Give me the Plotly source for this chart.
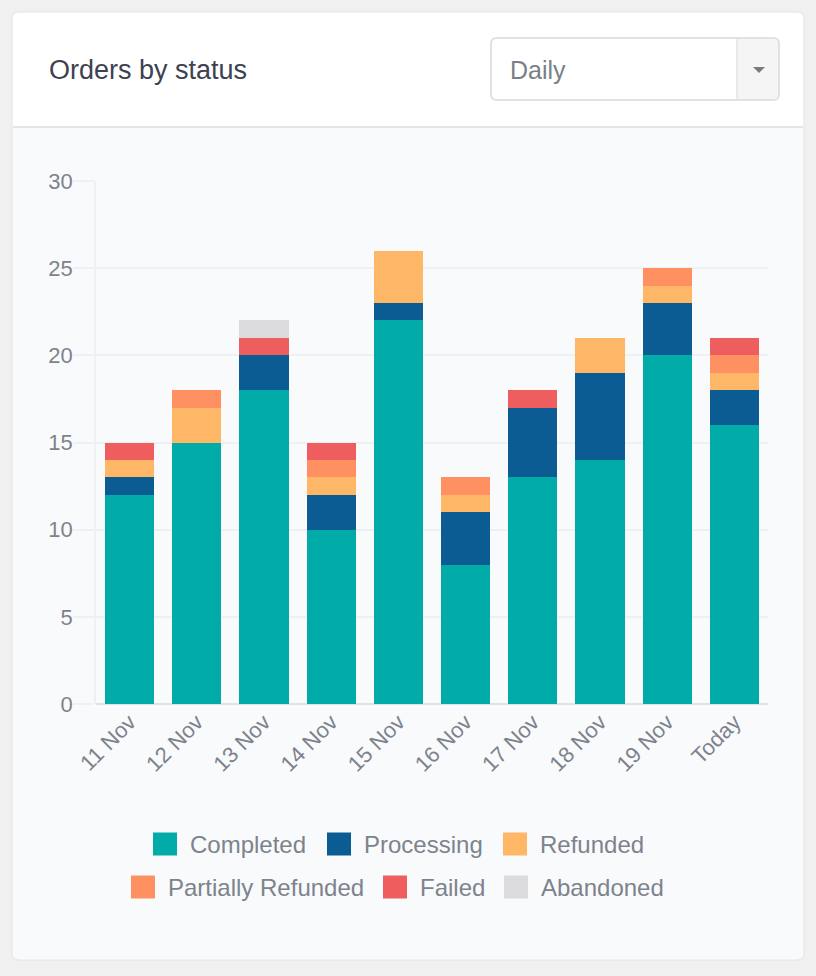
import plotly.graph_objects as go

categories = ["11 Nov", "12 Nov", "13 Nov", "14 Nov", "15 Nov", "16 Nov", "17 Nov", "18 Nov", "19 Nov", "Today"]
completed = [12, 15, 18, 10, 22, 8, 13, 14, 20, 16]
processing = [1, 0, 2, 2, 1, 3, 4, 5, 3, 2]
refunded = [1, 2, 0, 1, 3, 1, 0, 2, 1, 1]
partially_refunded = [0, 1, 0, 1, 0, 1, 0, 0, 1, 1]
failed = [1, 0, 1, 1, 0, 0, 1, 0, 0, 1]
abandoned = [0, 0, 1, 0, 0, 0, 0, 0, 0, 0]

series_names = ["Completed", "Processing", "Refunded", "Partially Refunded", "Failed", "Abandoned"]
series_values = [completed, processing, refunded, partially_refunded, failed, abandoned]
colors = ["#00aba8", "#0c5c94", "#fdb766", "#fe9062", "#ef5e5e", "#dcdcde"]

W, H = 816, 976
L, R, T, B = 96, 768, 181, 704
FONT = "Helvetica Neue, Helvetica, Arial, Liberation Sans, sans-serif"
TEXT_GREY = "#7d838d"


def px(x):
    return (x - L) / (R - L)


def py(y):
    return (B - y) / (B - T)


def rrect(x0, y0, x1, y1, r, tl=True, tr=True, br=True, bl=True):
    def P(x, y):
        return f"{px(x):.6f},{py(y):.6f}"
    rtl = r if tl else 0
    rtr = r if tr else 0
    rbr = r if br else 0
    rbl = r if bl else 0
    p = f"M {P(x0 + rtl, y0)} L {P(x1 - rtr, y0)} "
    p += f"Q {P(x1, y0)} {P(x1, y0 + rtr)} " if rtr else ""
    p += f"L {P(x1, y1 - rbr)} "
    p += f"Q {P(x1, y1)} {P(x1 - rbr, y1)} " if rbr else ""
    p += f"L {P(x0 + rbl, y1)} "
    p += f"Q {P(x0, y1)} {P(x0, y1 - rbl)} " if rbl else ""
    p += f"L {P(x0, y0 + rtl)} "
    p += f"Q {P(x0, y0)} {P(x0 + rtl, y0)} " if rtl else ""
    return p + "Z"


fig = go.Figure()
for name, vals, col in zip(series_names, series_values, colors):
    fig.add_trace(go.Bar(x=categories, y=vals, name=name, marker=dict(color=col, line=dict(width=0)),
                         showlegend=False, hoverinfo="skip"))

shapes = []
# card
shapes.append(dict(type="path", path=rrect(12, 12, 804, 960, 7), xref="paper", yref="paper",
                   fillcolor="#ffffff", line=dict(color="#e2e2e2", width=1), layer="below"))
# body
shapes.append(dict(type="path", path=rrect(13, 127, 803, 959, 6, tl=False, tr=False), xref="paper", yref="paper",
                   fillcolor="#f9fafc", line=dict(width=0), layer="below"))
shapes.append(dict(type="line", x0=px(13), x1=px(803), y0=py(127), y1=py(127), xref="paper", yref="paper",
                   line=dict(color="#e3e5e8", width=2), layer="below"))
# dropdown
shapes.append(dict(type="path", path=rrect(491, 38, 779, 100, 6), xref="paper", yref="paper",
                   fillcolor="#ffffff", line=dict(color="#dfe2e6", width=2), layer="below"))
shapes.append(dict(type="path", path=rrect(737, 39, 778, 99, 5, tl=False, bl=False), xref="paper", yref="paper",
                   fillcolor="#f5f5f5", line=dict(width=0), layer="below"))
shapes.append(dict(type="line", x0=px(737), x1=px(737), y0=py(39), y1=py(99), xref="paper", yref="paper",
                   line=dict(color="#e1e3e6", width=1.5), layer="below"))
shapes.append(dict(type="path", path=f"M {px(753):.6f},{py(67):.6f} L {px(765):.6f},{py(67):.6f} L {px(759):.6f},{py(73):.6f} Z",
                   xref="paper", yref="paper", fillcolor="#777b82", line=dict(width=0), layer="below"))

annotations = [
    dict(text="Orders by status", x=px(47), y=py(70), xref="paper", yref="paper", xanchor="left", yanchor="middle",
         showarrow=False, font=dict(family=FONT, size=27, color="#3c4250")),
    dict(text="Daily", x=px(508), y=py(70), xref="paper", yref="paper", xanchor="left", yanchor="middle",
         showarrow=False, font=dict(family=FONT, size=25, color="#7a7f87")),
]

# custom legend
legend_pos = [(153, 844), (327, 844), (503, 844), (131, 887), (383, 887), (504, 887)]
for name, col, (lx, ly) in zip(series_names, colors, legend_pos):
    shapes.append(dict(type="rect", x0=px(lx), x1=px(lx + 24), y0=py(ly - 11.5), y1=py(ly + 11.5),
                       xref="paper", yref="paper", fillcolor=col, line=dict(width=0)))
    annotations.append(dict(text=name, x=px(lx + 35), y=py(ly), xref="paper", yref="paper",
                            xanchor="left", yanchor="middle", showarrow=False,
                            font=dict(family=FONT, size=24, color=TEXT_GREY)))

fig.update_layout(
    width=W, height=H,
    margin=dict(l=L, r=W - R, t=T, b=H - B),
    paper_bgcolor="#f0f0f0",
    plot_bgcolor="rgba(0,0,0,0)",
    barmode="stack",
    bargap=0.27,
    font=dict(family=FONT, color=TEXT_GREY),
    showlegend=False,
    shapes=shapes,
    annotations=annotations,
    xaxis=dict(tickangle=-45, tickfont=dict(size=22, color=TEXT_GREY), showgrid=False,
               showline=False, zeroline=False, ticks="", fixedrange=True),
    yaxis=dict(range=[0, 30], dtick=5, tickfont=dict(size=22, color=TEXT_GREY),
               gridcolor="#eef0f3", gridwidth=1.5, showline=True, linecolor="#eef0f3", linewidth=1.5,
               zeroline=True, zerolinecolor="#dde3ec", zerolinewidth=2,
               ticks="outside", ticklen=21, tickcolor="#eef0f3", tickwidth=1.5,
               ticklabelstandoff=-4, fixedrange=True),
)

fig.write_html("out.html", config={"displayModeBar": False},
               post_script="document.body.style.margin='0';document.body.style.background='#f0f0f0';")
